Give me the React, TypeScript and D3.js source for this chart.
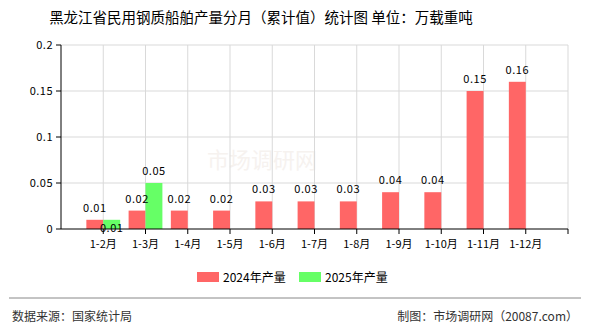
import { useEffect, useRef } from 'react';
import * as d3 from 'd3';

const MONTHS = ['1-2月', '1-3月', '1-4月', '1-5月', '1-6月', '1-7月', '1-8月', '1-9月', '1-10月', '1-11月', '1-12月'];
const Y2024 = [0.01, 0.02, 0.02, 0.02, 0.03, 0.03, 0.03, 0.04, 0.04, 0.15, 0.16];
const Y2025 = [0.01, 0.05];
const Y_TICKS = [0, 0.05, 0.1, 0.15, 0.2];
const SERIES = [
  { name: '2024年产量', values: Y2024, color: '#ff6666' },
  { name: '2025年产量', values: Y2025, color: '#66ff66' },
];

const W = 590, H = 330;
const M = { top: 45, right: 22, bottom: 101, left: 61 };
const FONT = '"Noto Sans CJK SC", "DejaVu Sans", sans-serif';

export default function App() {
  const ref = useRef<SVGSVGElement>(null);
  useEffect(() => {
    const svg = d3.select(ref.current); svg.selectAll('*').remove();
    svg.attr('width', W).attr('height', H).style('font-family', FONT);
    svg.append('rect').attr('width', W).attr('height', H).attr('fill', '#fff');

    const x = d3.scaleLinear().domain([0, MONTHS.length + 1]).range([M.left, W - M.right]);
    const y = d3.scaleLinear().domain([0, 0.2]).range([H - M.bottom, M.top]);
    const bw = (x(1) - x(0)) * 0.4;

    // watermark
    svg.append('text').attr('x', 262).attr('y', 168).attr('text-anchor', 'middle')
      .attr('fill', '#f6f2ef').attr('font-size', 22).text('市场调研网');

    // grid
    svg.append('g').selectAll('line').data(Y_TICKS.slice(1)).join('line')
      .attr('x1', M.left).attr('x2', W - M.right).attr('y1', d => y(d)).attr('y2', d => y(d))
      .attr('stroke', '#d9d9d9');
    svg.append('g').selectAll('line').data(d3.range(1, MONTHS.length + 2)).join('line')
      .attr('x1', d => x(d)).attr('x2', d => x(d)).attr('y1', M.top).attr('y2', y(0))
      .attr('stroke', '#d9d9d9');

    // bars
    SERIES.forEach((s, si) => {
      svg.append('g').selectAll('rect').data(s.values).join('rect')
        .attr('x', (d, i) => x(i + 1) - bw + si * bw).attr('width', bw)
        .attr('y', d => y(d)).attr('height', d => y(0) - y(d)).attr('fill', s.color);
    });

    // value labels
    SERIES.forEach((s, si) => {
      svg.append('g').selectAll('text').data(s.values).join('text')
        .attr('x', (d, i) => x(i + 1) - bw / 2 + si * bw)
        .attr('y', (d, i) => {
          const other = SERIES[1 - si].values[i];
          // the second of two equal neighbouring labels is pushed below the bar top
          if (si === 1 && other !== undefined && Math.abs(other - d) < 1e-9) return y(d) + 12;
          return y(d) - 8;
        })
        .attr('text-anchor', 'middle').attr('font-size', 11).attr('letter-spacing', 0.5).attr('fill', '#000')
        .text(d => d.toFixed(2));
    });

    // axes
    const ax = svg.append('g');
    ax.append('line').attr('x1', M.left).attr('x2', M.left).attr('y1', M.top).attr('y2', y(0)).attr('stroke', '#000');
    ax.append('line').attr('x1', M.left).attr('x2', W - M.right).attr('y1', y(0)).attr('y2', y(0)).attr('stroke', '#000');
    ax.selectAll('.yt').data(Y_TICKS).join('line').attr('class', 'yt')
      .attr('x1', M.left - 5).attr('x2', M.left).attr('y1', d => y(d)).attr('y2', d => y(d)).attr('stroke', '#000');
    ax.selectAll('.yl').data(Y_TICKS).join('text').attr('class', 'yl')
      .attr('x', M.left - 8).attr('y', d => y(d) + 4).attr('text-anchor', 'end')
      .attr('font-size', 11).attr('letter-spacing', 0.5).attr('fill', '#000').text(d => String(d));
    ax.selectAll('.xt').data(d3.range(1, MONTHS.length + 2)).join('line').attr('class', 'xt')
      .attr('x1', d => x(d)).attr('x2', d => x(d)).attr('y1', y(0)).attr('y2', y(0) + 5).attr('stroke', '#000');
    ax.selectAll('.xl').data(MONTHS).join('text').attr('class', 'xl')
      .attr('x', (d, i) => x(i + 1)).attr('y', y(0) + 19).attr('text-anchor', 'middle')
      .attr('font-size', 11).attr('fill', '#000').text(d => d);

    // title
    svg.append('text').attr('x', 261).attr('y', 23).attr('text-anchor', 'middle')
      .attr('font-size', 14.5).attr('fill', '#000')
      .text('黑龙江省民用钢质船舶产量分月（累计值）统计图 单位：万载重吨');

    // legend
    const lg = svg.append('g');
    SERIES.forEach((s, i) => {
      const lx = 197 + i * 102;
      lg.append('rect').attr('x', lx).attr('y', 272).attr('width', 22).attr('height', 10).attr('fill', s.color);
      lg.append('text').attr('x', lx + 26).attr('y', 282).attr('font-size', 12).attr('fill', '#000').text(s.name);
    });

    // footer
    svg.append('line').attr('x1', 9).attr('x2', 581).attr('y1', 298).attr('y2', 298).attr('stroke', '#888');
    svg.append('text').attr('x', 12).attr('y', 321).attr('font-size', 12).attr('fill', '#333').text('数据来源：国家统计局');
    svg.append('text').attr('x', 578).attr('y', 321).attr('text-anchor', 'end').attr('font-size', 12)
      .attr('fill', '#333').text('制图：市场调研网（20087.com）');
  }, []);
  return <svg ref={ref} style={{ position: 'absolute', left: 0, top: 0 }} />;
}
